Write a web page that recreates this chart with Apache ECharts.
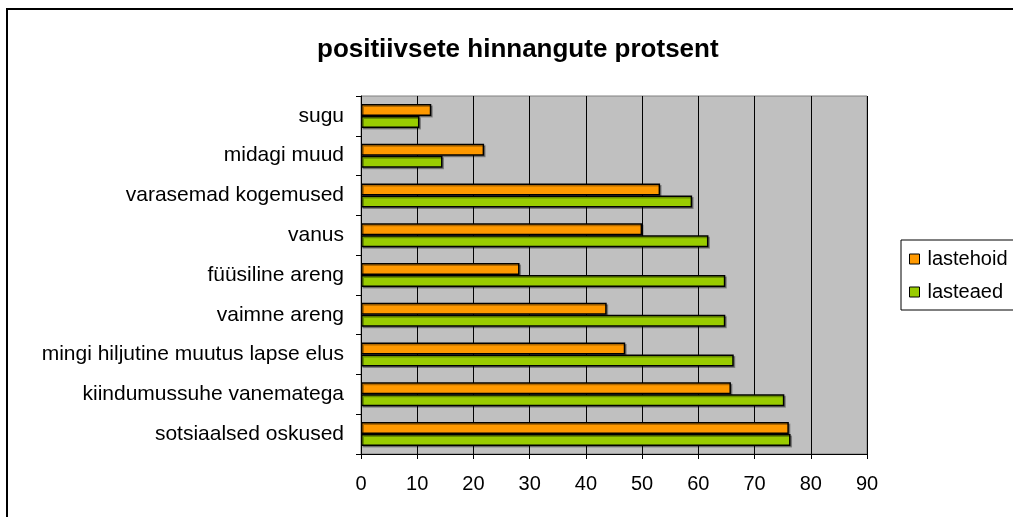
<!DOCTYPE html>
<html>
<head>
<meta charset="utf-8">
<script src="https://cdn.jsdelivr.net/npm/echarts@6/dist/echarts.min.js"></script>
<style>
  html, body { margin: 0; padding: 0; background: #fff; }
  #chart { width: 1013px; height: 517px; }
</style>
</head>
<body>
<div id="chart"></div>
<script>
// categories, top to bottom as in the picture
const categories = [
  'sugu',
  'midagi muud',
  'varasemad kogemused',
  'vanus',
  'füüsiline areng',
  'vaimne areng',
  'mingi hiljutine muutus lapse elus',
  'kiindumussuhe vanematega',
  'sotsiaalsed oskused'
];
const lastehoid = [12.5, 21.9, 53.2, 50.0, 28.2, 43.7, 47.0, 65.8, 76.1];
const lasteaed = [10.4, 14.5, 58.9, 61.8, 64.8, 64.8, 66.3, 75.3, 76.4];
const xTicks = { min: 0, max: 90, interval: 10 };

const font = 'Liberation Sans, Arial, sans-serif';

const barStyle = (color) => ({
  color: color,
  borderColor: '#000',
  borderWidth: 1.5,
  shadowColor: 'rgba(0,0,0,0.3)',
  shadowOffsetX: 1.5,
  shadowOffsetY: 1.5
});

const option = {
  animation: false,
  backgroundColor: '#fff',
  textStyle: { fontFamily: font },
  title: {
    text: 'positiivsete hinnangute protsent',
    left: 312,
    top: 32,
    textStyle: { fontFamily: font, fontSize: 26, fontWeight: 'bold', color: '#000' }
  },
  graphic: [{
    type: 'rect',
    z: -10,
    shape: { x: 7, y: 9, width: 1200, height: 700 },
    style: { fill: null, stroke: '#000', lineWidth: 2 }
  }],
  legend: {
    orient: 'vertical',
    left: 901,
    top: 240,
    padding: [9, 80, 8, 8],
    itemGap: 13,
    itemWidth: 10,
    itemHeight: 10,
    icon: 'rect',
    backgroundColor: '#fff',
    borderColor: '#000',
    borderWidth: 1,
    itemStyle: { borderColor: '#000', borderWidth: 1 },
    textStyle: { fontFamily: font, fontSize: 20, color: '#000', padding: [0, 0, 0, 3] },
    data: ['lastehoid', 'lasteaed']
  },
  grid: {
    left: 361,
    top: 96,
    right: 146,
    bottom: 63,
    show: true,
    backgroundColor: '#C0C0C0',
    borderColor: '#808080',
    borderWidth: 1
  },
  xAxis: {
    type: 'value',
    min: xTicks.min,
    max: xTicks.max,
    interval: xTicks.interval,
    axisLine: { show: true, lineStyle: { color: '#000', width: 1 } },
    axisTick: { show: true, length: 5, lineStyle: { color: '#000' } },
    axisLabel: { margin: 20, fontSize: 20, color: '#000', fontFamily: font },
    splitLine: { show: true, lineStyle: { color: '#000', width: 1 } }
  },
  yAxis: {
    type: 'category',
    inverse: true,
    data: categories,
    axisLine: { show: true, lineStyle: { color: '#000', width: 1 } },
    axisTick: { show: true, length: 5, lineStyle: { color: '#000' } },
    axisLabel: { margin: 17, fontSize: 21, color: '#000', fontFamily: font },
    splitLine: { show: false }
  },
  series: [
    {
      name: 'lastehoid',
      type: 'bar',
      data: lastehoid,
      barWidth: 12,
      barGap: '0%',
      itemStyle: barStyle('#FF9900')
    },
    {
      name: 'lasteaed',
      type: 'bar',
      data: lasteaed,
      barWidth: 12,
      barGap: '0%',
      itemStyle: barStyle('#99CC00')
    }
  ]
};

const myChart = echarts.init(document.getElementById('chart'));
myChart.setOption(option);
</script>
</body>
</html>
